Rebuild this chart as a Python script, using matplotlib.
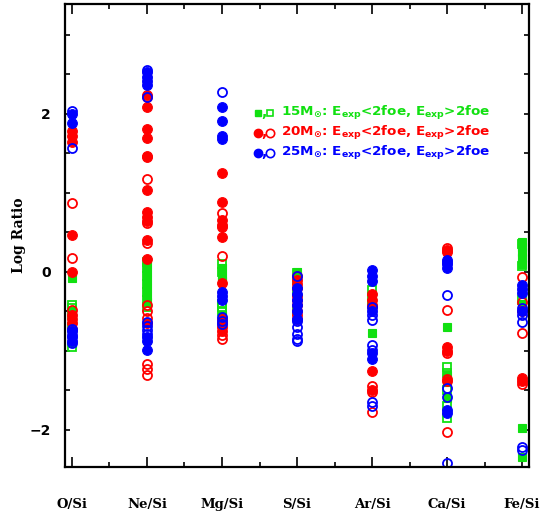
import matplotlib
matplotlib.use("Agg")
import matplotlib.pyplot as plt
import numpy as np
from matplotlib.ticker import MultipleLocator, FixedLocator

plt.rcParams['mathtext.default'] = 'bf'

labels = ['O/Si', 'Ne/Si', 'Mg/Si', 'S/Si', 'Ar/Si', 'Ca/Si', 'Fe/Si']

# log ratios, one list per element for each model set
m15_lo = [[-0.08, -0.5, -0.62, -0.9],
          [0.1, 0.0, -0.1, -0.2, -0.3, -0.38, -0.85],
          [0.05, -0.05, -0.12, -0.55, -0.6],
          [0.0, -0.05, -0.15, -0.3],
          [-0.77, -0.3],
          [-0.7, -1.3, -1.4, -1.6],
          [0.38, 0.32, 0.25, 0.18, 0.1, -0.4, -1.97, -2.34]]
m15_hi = [[-0.42, -0.46, -0.55, -0.7, -0.95],
          [0.12, 0.05, -0.05, -0.15, -0.25, -0.35, -0.45],
          [0.1, 0.0, -0.4, -0.45, -0.5],
          [-0.02, -0.1, -0.25, -0.5],
          [-0.23, -0.32, -0.4],
          [-1.2, -1.28, -1.5, -1.7, -1.85],
          [0.35, 0.07, -0.35]]
m20_lo = [[1.78, 1.72, 1.65, 0.47, 0.0, -0.55, -0.65],
          [2.24, 2.09, 1.81, 1.7, 1.47, 1.45, 1.04, 0.76, 0.7, 0.64, 0.4, 0.16, -0.65],
          [1.25, 0.89, 0.66, 0.6, 0.57, 0.44, -0.14, -0.6, -0.7, -0.75],
          [-0.1, -0.2, -0.35, -0.42, -0.5],
          [-0.28, -0.35, -0.42, -1.26, -1.5],
          [0.28, 0.25, -0.95, -1.0, -1.38],
          [-0.5, -1.34, -1.38]]
m20_hi = [[0.87, 0.17, -0.48, -0.6, -0.72],
          [2.22, 1.18, 0.62, 0.37, -0.42, -0.5, -0.58, -1.17, -1.23, -1.3],
          [0.75, 0.2, -0.65, -0.8, -0.85],
          [-0.05, -0.15, -0.3, -0.55, -0.6],
          [-0.45, -1.45, -1.52, -1.77],
          [0.3, -0.48, -1.03, -1.35, -2.03],
          [-0.06, -0.38, -0.77, -1.42]]
m25_lo = [[2.0, 1.88, -0.75, -0.82, -0.88],
          [2.53, 2.47, 2.42, 2.36, -0.82, -0.88, -0.99],
          [2.09, 1.91, 1.72, 1.68, -0.25, -0.3, -0.35],
          [-0.2, -0.28, -0.35, -0.42, -0.5, -0.6],
          [0.02, -0.05, -0.12, -0.5, -1.03, -1.1],
          [0.15, 0.1, 0.05, -1.75, -1.79],
          [-0.16, -0.22, -0.27, -0.5]]
m25_hi = [[2.04, 1.57, -0.72, -0.8, -0.9],
          [2.55, 2.21, -0.63, -0.68, -0.73, -0.78],
          [2.28, -0.57, -0.62, -0.66],
          [-0.05, -0.62, -0.7, -0.78, -0.85, -0.88],
          [-0.45, -0.55, -0.61, -0.92, -0.99, -1.65, -1.7],
          [0.12, -0.29, -1.47, -1.58, -2.42],
          [-0.46, -0.55, -0.63, -2.22, -2.25]]

green = '#11e011'
red = '#ff0000'
blue = '#0000ff'

fig = plt.figure(figsize=(5.46, 5.14), dpi=100)
ax = fig.add_axes([0.119, 0.0914, 0.85, 0.9006])

def scatter(data, color, marker, filled, ms):
       for i, vals in enumerate(data):
              x = np.full(len(vals), i + 1)
              if filled:
                     ax.plot(x, vals, ls='none', marker=marker, ms=ms, mfc=color, mec=color, mew=0.8)
              else:
                     ax.plot(x, vals, ls='none', marker=marker, ms=ms, mfc='none', mec=color, mew=1.3)

scatter(m15_lo, green, 's', True, 5.5)
scatter(m15_hi, green, 's', False, 5.5)
scatter(m20_lo, red, 'o', True, 7)
scatter(m20_hi, red, 'o', False, 6.5)
scatter(m25_lo, blue, 'o', True, 7)
scatter(m25_hi, blue, 'o', False, 6.5)

ax.set_xlim(0.907, 7.093)
ax.set_ylim(-2.47, 3.39)
ax.set_xticks(range(1, 8))
ax.set_xticklabels(labels, family='DejaVu Serif', weight='bold', fontsize=9.5)
ax.xaxis.set_minor_locator(FixedLocator(np.arange(1.5, 7, 1.0)))
ax.set_yticks([-2, 0, 2])
ax.set_yticklabels(['\u22122', '0', '2'], family='DejaVu Sans', weight='bold', fontsize=10)
ax.yaxis.set_minor_locator(MultipleLocator(0.5))
ax.tick_params(axis='x', which='major', direction='in', top=True, length=7, width=1.2, pad=22)
ax.tick_params(axis='x', which='minor', direction='in', top=True, length=3.8, width=1.2)
ax.tick_params(axis='y', which='both', direction='in', right=True, length=3.8, width=1.2, pad=10)
for s in ax.spines.values():
       s.set_linewidth(1.6)
ax.set_ylabel('Log Ratio', family='DejaVu Serif', weight='bold', fontsize=10, labelpad=3)

# key
rows = [(green, 's', '15M$_{\\odot}$: E$_{exp}$<2foe, E$_{exp}$>2foe', 0.7646),
        (red, 'o', '20M$_{\\odot}$: E$_{exp}$<2foe, E$_{exp}$>2foe', 0.7214),
        (blue, 'o', '25M$_{\\odot}$: E$_{exp}$<2foe, E$_{exp}$>2foe', 0.678)]
for c, mk, txt, yy in rows:
       ms = 5 if mk == 's' else 6
       ax.plot([0.416], [yy], marker=mk, ms=ms, mfc=c, mec=c, transform=ax.transAxes, clip_on=False)
       ax.plot([0.442], [yy], marker=mk, ms=ms, mfc='none', mec=c, mew=1.2, transform=ax.transAxes, clip_on=False)
       ax.text(0.4235, yy - 0.008, ',', color=c, fontsize=10, weight='bold', transform=ax.transAxes,
               va='baseline')
       ax.text(0.4655, yy, txt, color=c, fontsize=9.7, weight='bold', transform=ax.transAxes,
               va='center')

plt.savefig('out.png', dpi=100)
